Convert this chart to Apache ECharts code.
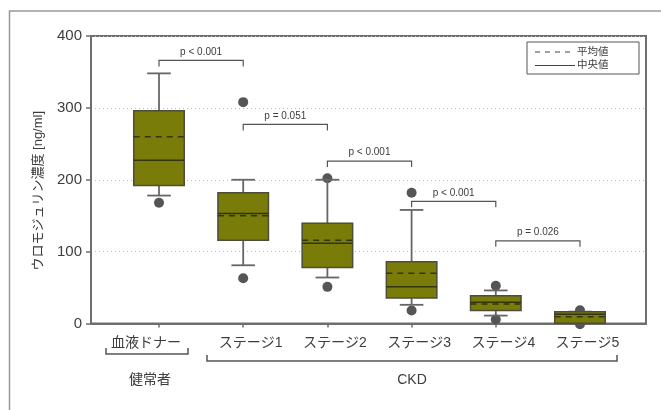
<!DOCTYPE html>
<html>
<head>
<meta charset="utf-8">
<script src="https://cdn.jsdelivr.net/npm/echarts@6/dist/echarts.min.js"></script>
<style>
  html, body { margin: 0; padding: 0; background: #fff; }
  #chart { width: 661px; height: 410px; }
</style>
</head>
<body>
<div id="chart"></div>
<script>
// Uromodulin concentration by group (ng/ml)
const categories = ['血液ドナー', 'ステージ1', 'ステージ2', 'ステージ3', 'ステージ4', 'ステージ5'];
const whiskerLow  = [178, 81, 64, 26, 11, 0.5];
const q1          = [192, 116, 78, 35.5, 18, 0.5];
const median      = [227, 153, 111.5, 51, 29.5, 13];
const mean        = [260, 150, 116, 70, 27, 9.5];
const q3          = [296, 182, 139.5, 86, 38.5, 16.5];
const whiskerHigh = [348, 200, 200, 158, 46, 16.5];
// outlier points: [group position (1-based), value]
const outliers = [
  [1, 168], [2, 308], [2, 63], [3, 202], [3, 51],
  [4, 182], [4, 18], [5, 52.5], [5, 5.5], [6, 18.5], [6, -1]
];
const yTicks = [0, 100, 200, 300, 400];
// pairwise comparisons: [from group, to group, bracket level, p-value text]
const comparisons = [
  [1, 2, 366, 'p < 0.001'],
  [2, 3, 277, 'p = 0.051'],
  [3, 4, 226, 'p < 0.001'],
  [4, 5, 170, 'p < 0.001'],
  [5, 6, 115, 'p = 0.026']
];

const positions = categories.map((_, i) => i + 1);
const boxData = positions.map((p, i) =>
  [p, whiskerLow[i], q1[i], median[i], mean[i], q3[i], whiskerHigh[i]]);

const FONT = '"Liberation Sans", "Noto Sans CJK JP", sans-serif';
const TEXT = '#3d3d3d';
const AXIS = '#6e6e6e';

const chart = echarts.init(document.getElementById('chart'), null, { renderer: 'canvas' });

function renderBox(params, api) {
  const x = api.value(0);
  const cx = api.coord([x, 0])[0];
  const y = k => api.coord([x, api.value(k)])[1];
  const yWl = y(1), yQ1 = y(2), yMed = y(3), yMean = y(4), yQ3 = y(5), yWh = y(6);
  const half = api.size([0.6, 0])[0] / 2;
  const capHalf = api.size([0.28, 0])[0] / 2;
  const whisk = { stroke: '#666', lineWidth: 1.8 };
  return {
    type: 'group',
    children: [
      { type: 'line', shape: { x1: cx, y1: yWh, x2: cx, y2: yQ3 }, style: whisk },
      { type: 'line', shape: { x1: cx, y1: yQ1, x2: cx, y2: yWl }, style: whisk },
      { type: 'line', shape: { x1: cx - capHalf, y1: yWh, x2: cx + capHalf, y2: yWh }, style: whisk },
      { type: 'line', shape: { x1: cx - capHalf, y1: yWl, x2: cx + capHalf, y2: yWl }, style: whisk },
      { type: 'rect', shape: { x: cx - half, y: yQ3, width: half * 2, height: yQ1 - yQ3 },
        style: { fill: '#7a7c0a', stroke: '#4d4d3a', lineWidth: 1.5 } },
      { type: 'line', shape: { x1: cx - half, y1: yMed, x2: cx + half, y2: yMed },
        style: { stroke: '#33350c', lineWidth: 1.5 } },
      { type: 'line', shape: { x1: cx - half, y1: yMean, x2: cx + half, y2: yMean },
        style: { stroke: '#33350c', lineWidth: 1.5, lineDash: [6, 5] } }
    ]
  };
}

function renderBracket(params, api) {
  const a = api.coord([api.value(0), api.value(2)]);
  const b = api.coord([api.value(1), api.value(2)]);
  const drop = 6;
  return {
    type: 'group',
    children: [
      { type: 'polyline',
        shape: { points: [[a[0], a[1] + drop], [a[0], a[1]], [b[0], b[1]], [b[0], b[1] + drop]] },
        style: { stroke: '#555', lineWidth: 1.2, fill: null } },
      { type: 'text',
        style: { x: (a[0] + b[0]) / 2, y: a[1] - 8.5, text: comparisons[params.dataIndex][3],
                 fill: TEXT, font: '10px ' + FONT, align: 'center', verticalAlign: 'middle' } }
    ]
  };
}

const option = {
  animation: false,
  backgroundColor: '#fff',
  grid: { left: 91, right: 15, top: 36, bottom: 86.5, show: true, borderColor: AXIS, borderWidth: 2 },
  xAxis: {
    type: 'value',
    min: 0.1924,
    max: 6.784,
    axisLine: { show: true, lineStyle: { color: AXIS, width: 2 } },
    axisTick: { show: true, customValues: positions, length: 4, lineStyle: { color: AXIS, width: 1.5 } },
    axisLabel: {
      customValues: positions,
      margin: 13,
      formatter: v => {
        const name = categories[Math.round(v) - 1];
        return Math.round(v) === 1 ? '{d|' + name + '}' : '{s|' + name + '}';
      },
      rich: {
        d: { fontSize: 14, color: TEXT, fontFamily: FONT, padding: [0, 26, 0, 0] },
        s: { fontSize: 14, color: TEXT, fontFamily: FONT, padding: [0, 0, 0, 15] }
      }
    },
    splitLine: { show: false }
  },
  yAxis: {
    type: 'value',
    min: yTicks[0],
    max: yTicks[yTicks.length - 1],
    interval: 100,
    name: 'ウロモジュリン濃度 [ng/ml]',
    nameLocation: 'middle',
    nameGap: 46,
    nameTextStyle: { fontSize: 13, color: TEXT, fontFamily: FONT, padding: [0, 0, 0, -22] },
    axisLine: { show: true, lineStyle: { color: AXIS, width: 2 } },
    axisTick: { show: true, length: 5, lineStyle: { color: AXIS, width: 1.5 } },
    axisLabel: { fontSize: 15, color: TEXT, fontFamily: FONT, margin: 9 },
    splitLine: { show: true, lineStyle: { color: '#bbb', type: [1, 3], width: 1 } }
  },
  series: [
    {
      type: 'scatter',
      data: outliers,
      symbolSize: 10,
      itemStyle: { color: '#555', opacity: 1 },
      clip: false,
      z: 1
    },
    {
      type: 'custom',
      data: boxData,
      renderItem: renderBox,
      encode: { x: 0, y: [1, 6] },
      clip: false,
      z: 2
    },
    {
      type: 'custom',
      data: comparisons.map(c => [c[0], c[1], c[2]]),
      renderItem: renderBracket,
      encode: { x: [0, 1], y: 2 },
      z: 3
    }
  ],
  graphic: [
    // outer frame
    { type: 'polyline', shape: { points: [[9.5, 410], [9.5, 11], [661, 11]] },
      style: { stroke: '#999', lineWidth: 1.5, fill: null }, silent: true },
    // legend
    { type: 'rect', shape: { x: 527, y: 42, width: 112, height: 32 },
      style: { fill: '#fff', stroke: '#555', lineWidth: 1 }, z: 10 },
    { type: 'line', shape: { x1: 535, y1: 52, x2: 575, y2: 52 },
      style: { stroke: '#444', lineWidth: 1.2, lineDash: [5, 5] }, z: 11 },
    { type: 'text', style: { x: 577, y: 52, text: '平均値', font: '10.5px ' + FONT, fill: TEXT, verticalAlign: 'middle' }, z: 11 },
    { type: 'line', shape: { x1: 535, y1: 65.5, x2: 575, y2: 65.5 },
      style: { stroke: '#444', lineWidth: 1.2 }, z: 11 },
    { type: 'text', style: { x: 577, y: 65.5, text: '中央値', font: '10.5px ' + FONT, fill: TEXT, verticalAlign: 'middle' }, z: 11 },
    // group brackets below the axis labels
    { type: 'polyline', shape: { points: [[106, 348], [106, 354], [188, 354], [188, 348]] },
      style: { stroke: '#555', lineWidth: 1.5, fill: null } },
    { type: 'polyline', shape: { points: [[207, 355], [207, 361], [617, 361], [617, 355]] },
      style: { stroke: '#555', lineWidth: 1.5, fill: null } },
    { type: 'text', style: { x: 150, y: 380, text: '健常者', font: '14px ' + FONT, fill: TEXT, align: 'center', verticalAlign: 'middle' } },
    { type: 'text', style: { x: 412, y: 380, text: 'CKD', font: '14px ' + FONT, fill: TEXT, align: 'center', verticalAlign: 'middle' } }
  ]
};

chart.setOption(option);
</script>
</body>
</html>
